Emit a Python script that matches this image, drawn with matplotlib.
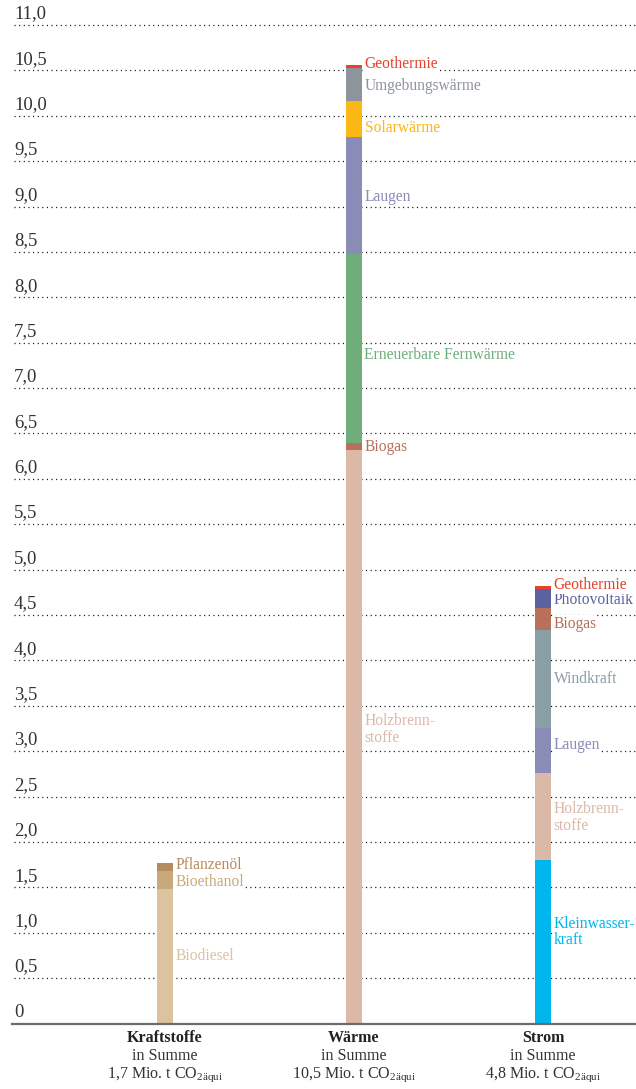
import matplotlib
matplotlib.use("Agg")
import matplotlib.pyplot as plt
import numpy as np

plt.rcParams['font.family'] = ['Liberation Serif', 'DejaVu Serif']
plt.rcParams['mathtext.fontset'] = 'custom'
plt.rcParams['mathtext.rm'] = 'Liberation Serif'
plt.rcParams['mathtext.it'] = 'Liberation Serif:italic'
plt.rcParams['mathtext.bf'] = 'Liberation Serif:bold'

# ---------------- data ----------------
categories = ["Kraftstoffe", "Wärme", "Strom"]
totals_text = ["1,7", "10,5", "4,8"]

kraft_labels = ["Biodiesel", "Bioethanol", "Pflanzenöl"]
kraft_values = [1.48, 0.20, 0.09]

waerme_labels = ["Holzbrenn-\nstoffe", "Biogas", "Erneuerbare Fernwärme", "Laugen",
                 "Solarwärme", "Umgebungswärme", "Geothermie"]
waerme_values = [6.32, 0.08, 2.08, 1.29, 0.39, 0.37, 0.03]

strom_labels = ["Kleinwasser-\nkraft", "Holzbrenn-\nstoffe", "Laugen", "Windkraft",
                "Biogas", "Photovoltaik", "Geothermie"]
strom_values = [1.80, 0.96, 0.49, 1.09, 0.24, 0.21, 0.03]

yticks = [0, 0.5, 1.0, 1.5, 2.0, 2.5, 3.0, 3.5, 4.0, 4.5, 5.0, 5.5, 6.0, 6.5,
          7.0, 7.5, 8.0, 8.5, 9.0, 9.5, 10.0, 10.5, 11.0]
ytick_labels = ["0", "0,5", "1,0", "1,5", "2,0", "2,5", "3,0", "3,5", "4,0", "4,5",
                "5,0", "5,5", "6,0", "6,5", "7,0", "7,5", "8,0", "8,5", "9,0", "9,5",
                "10,0", "10,5", "11,0"]

# ---------------- styles / layout ----------------
kraft_colors = ["#dcc3a0", "#c8a97b", "#b48c5f"]
waerme_colors = ["#dbb8a8", "#b8705a", "#6fad7b", "#8a8cb8", "#fbb714", "#8d949c", "#e8402a"]
strom_colors = ["#00b6ef", "#dbb8a8", "#8a8cb8", "#8a9ea6", "#b8705a", "#5a62a0", "#e8402a"]

kraft_label_y = [0.74, 1.56, 1.75]
waerme_label_y = [3.24, 6.35, 7.36, 9.10, 9.86, 10.33, 10.57]
strom_label_y = [1.01, 2.27, 3.07, 3.80, 4.40, 4.66, 4.83]

W, H = 636, 1089
fig = plt.figure(figsize=(W / 100, H / 100), dpi=100)
y0_px, y11_px = 1023.5, 25.0
ax = fig.add_axes([0, (H - y0_px) / H, 1, (y0_px - y11_px) / H])
ax.set_ylim(0, 11)
x_left = -165 / 189
x_right = (636 - 165) / 189
ax.set_xlim(x_left, x_right)
ax.axis("off")

# gridlines
for yv in yticks[1:]:
    ax.axhline(yv, xmin=14 / W, xmax=1, color="#111111", lw=0.9,
               linestyle=(0, (0.9, 2.8)), zorder=0, clip_on=False)
# base axis line
ax.axhline(-0.005, xmin=12 / W, xmax=1, color="#6b6b6b", lw=1.6, zorder=3, clip_on=False)

# tick labels
for yv, lab in zip(yticks, ytick_labels):
    ax.text(14 / W, yv + 0.03, lab, transform=ax.get_yaxis_transform(),
            ha="left", va="bottom", fontsize=13.5, color="#333333")

bar_w = 16 / 189
stacks = [(kraft_values, kraft_colors, kraft_labels, kraft_label_y),
          (waerme_values, waerme_colors, waerme_labels, waerme_label_y),
          (strom_values, strom_colors, strom_labels, strom_label_y)]

for xi, (vals, cols, labs, ly) in enumerate(stacks):
    bottom = 0.0
    for v, c in zip(vals, cols):
        ax.bar(xi, v, bottom=bottom, width=bar_w, color=c, zorder=2, linewidth=0)
        bottom += v
    for lab, c, yy in zip(labs, cols, ly):
        ax.text(xi + bar_w / 2 + 2.5 / 189, yy, lab, ha="left", va="center",
                fontsize=11.2, color=c, linespacing=1.05, zorder=4,
                bbox=dict(facecolor="white", edgecolor="none", pad=0.4))

# category labels
for xi, (cat, tot) in enumerate(zip(categories, totals_text)):
    xf = (xi - x_left) / (x_right - x_left)
    fig.text(xf, 1 - 1038 / H, cat, ha="center", va="center", fontsize=11.5,
             fontweight="bold", color="#222222")
    fig.text(xf, 1 - 1056 / H, "in Summe", ha="center", va="center", fontsize=11.5,
             color="#333333")
    fig.text(xf, 1 - 1075 / H, tot + r" Mio. t CO$_{\mathrm{2äqui}}$", ha="center",
             va="center", fontsize=11.5, color="#333333")

fig.savefig("out.png", dpi=100)
